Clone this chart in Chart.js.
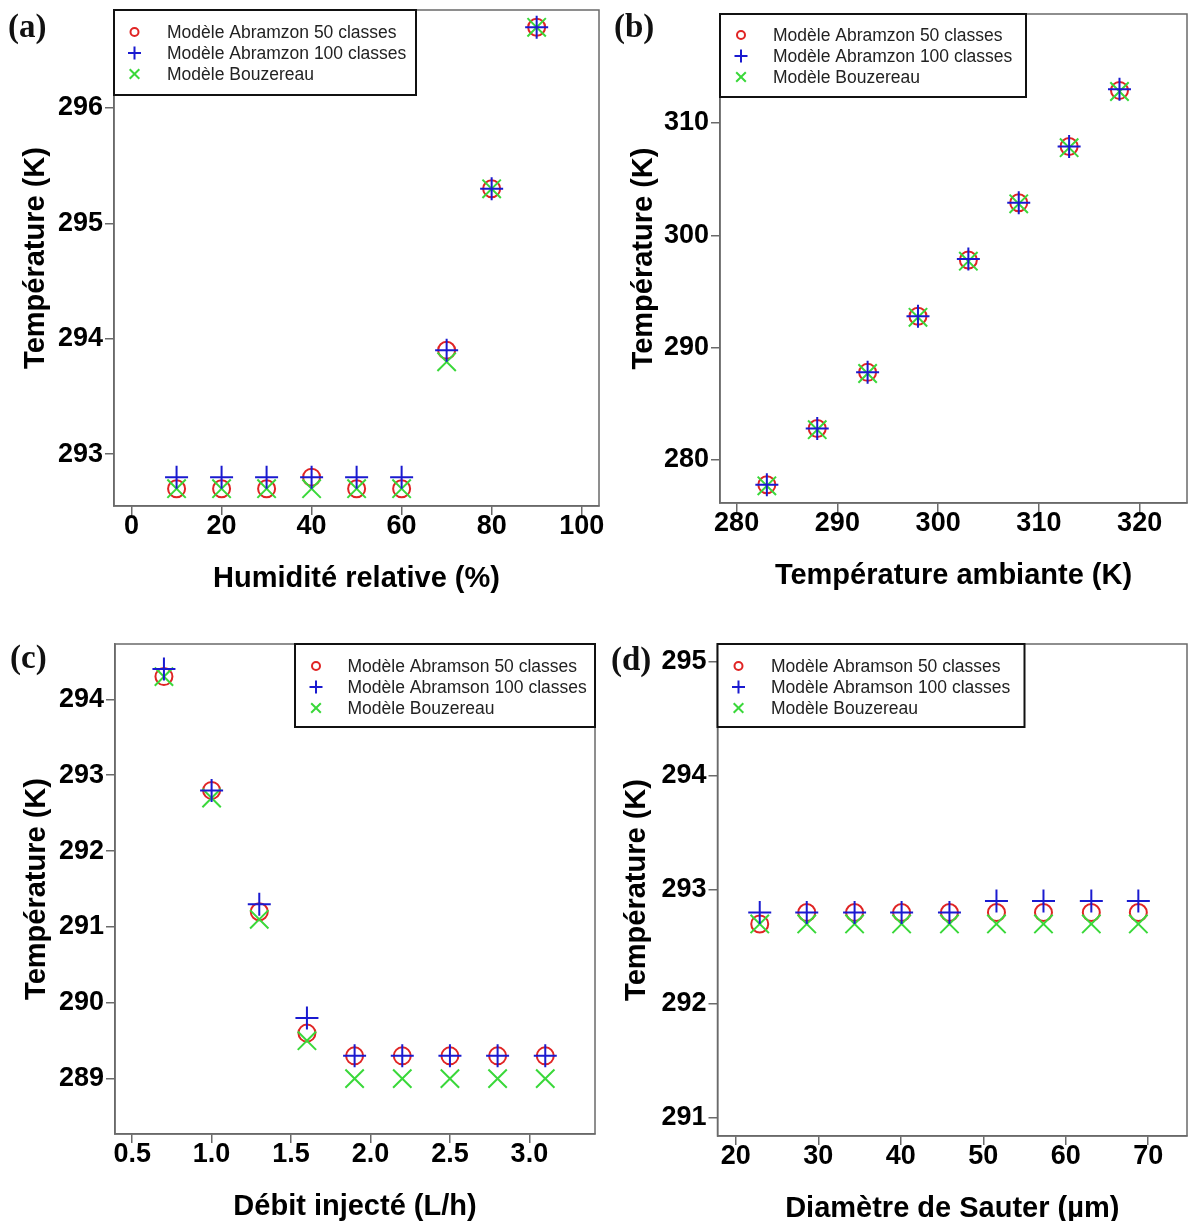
<!DOCTYPE html>
<html lang="fr">
<head>
<meta charset="utf-8">
<title>Température - études paramétriques</title>
<script src="https://cdn.jsdelivr.net/npm/chart.js@4.4.0/dist/chart.umd.min.js"></script>
<style>
  html, body { margin: 0; padding: 0; background: #fff; }
  #page { position: relative; width: 1188px; height: 1221px; overflow: hidden; }
  #page canvas { position: absolute; left: 0; top: 0; }
  .panel-label {
    position: absolute;
    font-family: 'Liberation Serif', 'Times New Roman', serif;
    font-weight: bold;
    font-size: 33px;
    line-height: 1;
    color: #111;
  }
</style>
</head>
<body>
<div id="page">
  <canvas id="chartA" width="1188" height="1221"></canvas>
  <canvas id="chartB" width="1188" height="1221"></canvas>
  <canvas id="chartC" width="1188" height="1221"></canvas>
  <canvas id="chartD" width="1188" height="1221"></canvas>
  <div class="panel-label" style="left:8px; top:10px;">(a)</div>
  <div class="panel-label" style="left:614px; top:10px;">(b)</div>
  <div class="panel-label" style="left:10px; top:641px;">(c)</div>
  <div class="panel-label" style="left:611px; top:643px;">(d)</div>
</div>
<script>
// ---------------------------------------------------------------------------
// Data
// ---------------------------------------------------------------------------

// (a) relative humidity
const humidite = [10, 20, 30, 40, 50, 60, 70, 80, 90];
const humA50 = [292.7, 292.7, 292.7, 292.8, 292.7, 292.7, 293.9, 295.3, 296.7];
const humA100 = [292.8, 292.8, 292.8, 292.8, 292.8, 292.8, 293.9, 295.3, 296.7];
const humBouz = [292.7, 292.7, 292.7, 292.7, 292.7, 292.7, 293.8, 295.3, 296.7];

// (b) ambient temperature
const tAmbiante = [283, 288, 293, 298, 303, 308, 313, 318];
const ambA50 = [277.8, 282.8, 287.8, 292.8, 297.8, 302.9, 307.9, 312.9];
const ambA100 = [277.8, 282.8, 287.8, 292.8, 297.9, 302.9, 307.9, 313.0];
const ambBouz = [277.7, 282.7, 287.7, 292.7, 297.7, 302.8, 307.8, 312.8];

// (c) injected flow rate
const debit = [0.7, 1.0, 1.3, 1.6, 1.9, 2.2, 2.5, 2.8, 3.1];
const debA50 = [294.3, 292.8, 291.2, 289.6, 289.3, 289.3, 289.3, 289.3, 289.3];
const debA100 = [294.4, 292.8, 291.3, 289.8, 289.3, 289.3, 289.3, 289.3, 289.3];
const debBouz = [294.3, 292.7, 291.1, 289.5, 289.0, 289.0, 289.0, 289.0, 289.0];

// (d) Sauter mean diameter
const sauter = [22.9, 28.6, 34.4, 40.1, 45.9, 51.6, 57.3, 63.1, 68.8];
const sauA50 = [292.7, 292.8, 292.8, 292.8, 292.8, 292.8, 292.8, 292.8, 292.8];
const sauA100 = [292.8, 292.8, 292.8, 292.8, 292.8, 292.9, 292.9, 292.9, 292.9];
const sauBouz = [292.7, 292.7, 292.7, 292.7, 292.7, 292.7, 292.7, 292.7, 292.7];

// legend labels
const labelsAbramzon = ['Modèle Abramzon 50 classes', 'Modèle Abramzon 100 classes', 'Modèle Bouzereau'];
const labelsAbramson = ['Modèle Abramson 50 classes', 'Modèle Abramson 100 classes', 'Modèle Bouzereau'];

// ---------------------------------------------------------------------------
// Styling
// ---------------------------------------------------------------------------
const PAGE_W = 1188;
const PAGE_H = 1221;
const RED = '#e02424';
const BLUE = '#1a1ad0';
const GREEN = '#3ad83a';
const AXIS_GRAY = '#6a6a6a';
const FONT = "'Liberation Sans', Arial, sans-serif";

// Marker sizes in the plot and in the legend box
const markerRadius = { circle: 8.5, cross: 11.5, crossRot: 13 };
const legendRadius = { circle: 4, cross: 6.5, crossRot: 6.8 };

document.addEventListener('DOMContentLoaded', function() {
    Chart.defaults.animation = false;
    Chart.defaults.font.family = FONT;

    createPanel('chartA', {
        area: { left: 0, bottom: 610 },
        frame: { left: 114, right: 599, top: 10, bottom: 506 },
        x: humidite, series: [humA50, humA100, humBouz], labels: labelsAbramzon,
        xRange: [-3.9, 103.85, 20], yRange: [292.55, 296.85, 1],
        xTitle: 'Humidité relative (%)', xTitlePad: 14, yTitlePad: 19,
        legend: { side: 'left', width: 302, height: 85, rows: [22, 43, 64], markerX: 20.5, textX: 53 }
    });

    createPanel('chartB', {
        area: { left: 600, bottom: 610 },
        frame: { left: 720, right: 1187, top: 14, bottom: 503 },
        x: tAmbiante, series: [ambA50, ambA100, ambBouz], labels: labelsAbramzon,
        xRange: [278.35, 324.7, 10], yRange: [276.17, 319.7, 10],
        xTitle: 'Température ambiante (K)', xTitlePad: 17, yTitlePad: 27,
        legend: { side: 'left', width: 306, height: 83, rows: [21, 42, 63], markerX: 21, textX: 53 }
    });

    createPanel('chartC', {
        area: { left: 0, bottom: 1221 },
        frame: { left: 115, right: 595, top: 644, bottom: 1134 },
        x: debit, series: [debA50, debA100, debBouz], labels: labelsAbramson,
        xRange: [0.392, 3.413, 0.5], yRange: [288.27, 294.73, 1], xDecimals: 1,
        xTitle: 'Débit injecté (L/h)', xTitlePad: -3, yTitlePad: 19.5,
        legend: { side: 'right', width: 300, height: 83, rows: [22, 43, 64], markerX: 21, textX: 52.5 }
    });

    createPanel('chartD', {
        area: { left: 600, bottom: 1221 },
        frame: { left: 717.5, right: 1187, top: 644, bottom: 1136 },
        x: sauter, series: [sauA50, sauA100, sauBouz], labels: labelsAbramson,
        xRange: [17.78, 74.7, 10], yRange: [290.84, 295.155, 1],
        xTitle: 'Diamètre de Sauter (µm)', xTitlePad: -5, yTitlePad: 19.5,
        legend: { side: 'left', width: 307, height: 83, rows: [22, 43, 64], markerX: 21, textX: 53.5 }
    });
});

/**
 * Frame around the plot area (left/bottom axis lines come from the scales)
 */
const framePlugin = {
    id: 'frameBox',
    beforeDatasetsDraw(chart) {
        const a = chart.chartArea;
        const ctx = chart.ctx;
        ctx.save();
        ctx.strokeStyle = AXIS_GRAY;
        ctx.lineWidth = 1.5;
        ctx.strokeRect(a.left, a.top, a.right - a.left, a.bottom - a.top);
        ctx.restore();
    }
};

/**
 * Boxed legend sitting in a corner of the plot area
 */
const legendBoxPlugin = {
    id: 'legendBox',
    afterDatasetsDraw(chart, args, opts) {
        const a = chart.chartArea;
        const ctx = chart.ctx;
        const x = opts.side === 'right' ? a.right - opts.width : a.left;
        const y = a.top;

        ctx.save();
        ctx.fillStyle = '#fff';
        ctx.fillRect(x, y, opts.width, opts.height);
        ctx.strokeStyle = '#111';
        ctx.lineWidth = 2;
        ctx.strokeRect(x, y, opts.width, opts.height);

        chart.data.datasets.forEach(function(ds, i) {
            const rowY = y + opts.rows[i];
            ctx.fillStyle = 'rgba(0,0,0,0)';
            ctx.strokeStyle = ds.borderColor;
            ctx.lineWidth = 2;
            Chart.helpers.drawPoint(ctx, {
                pointStyle: ds.pointStyle,
                radius: legendRadius[ds.pointStyle],
                borderWidth: 2,
                rotation: 0
            }, x + opts.markerX, rowY);

            ctx.fillStyle = '#222';
            ctx.font = '17.5px ' + FONT;
            ctx.textBaseline = 'middle';
            ctx.textAlign = 'left';
            ctx.fillText(ds.label, x + opts.textX, rowY + 1);
        });
        ctx.restore();
    }
};

function makeDataset(label, xs, ys, color, style, order) {
    return {
        label: label,
        data: xs.map(function(v, i) { return { x: v, y: ys[i] }; }),
        borderColor: color,
        backgroundColor: 'rgba(0,0,0,0)',
        pointStyle: style,
        pointRadius: markerRadius[style],
        pointBorderWidth: 2,
        pointBorderColor: color,
        pointBackgroundColor: 'rgba(0,0,0,0)',
        order: order
    };
}

function createPanel(canvasId, cfg) {
    const ctx = document.getElementById(canvasId);
    const f = cfg.frame;
    const yWidth = f.left - cfg.area.left;
    const xHeight = cfg.area.bottom - f.bottom;
    const decimals = cfg.xDecimals || 0;

    const tickFont = { family: FONT, size: 27, weight: 'bold' };
    const titleFont = { family: FONT, size: 29, weight: 'bold' };
    const gridOpts = {
        drawOnChartArea: false,
        drawTicks: true,
        tickLength: 9,
        color: AXIS_GRAY,
        lineWidth: 1.5
    };

    new Chart(ctx, {
        type: 'scatter',
        data: {
            datasets: [
                makeDataset(cfg.labels[0], cfg.x, cfg.series[0], RED, 'circle', 2),
                makeDataset(cfg.labels[1], cfg.x, cfg.series[1], BLUE, 'cross', 0),
                makeDataset(cfg.labels[2], cfg.x, cfg.series[2], GREEN, 'crossRot', 1)
            ]
        },
        options: {
            responsive: false,
            devicePixelRatio: 1,
            layout: {
                autoPadding: false,
                padding: {
                    left: cfg.area.left,
                    top: f.top,
                    right: PAGE_W - f.right,
                    bottom: PAGE_H - cfg.area.bottom
                }
            },
            plugins: {
                legend: { display: false },
                tooltip: { enabled: false },
                legendBox: cfg.legend
            },
            scales: {
                x: {
                    type: 'linear',
                    min: cfg.xRange[0],
                    max: cfg.xRange[1],
                    grid: gridOpts,
                    border: { display: true, color: AXIS_GRAY, width: 1.5 },
                    ticks: {
                        stepSize: cfg.xRange[2],
                        includeBounds: false,
                        color: '#000',
                        font: tickFont,
                        padding: -4.5,
                        maxRotation: 0,
                        autoSkip: false,
                        callback: function(v) { return Number(v).toFixed(decimals); }
                    },
                    title: {
                        display: true,
                        text: cfg.xTitle,
                        color: '#000',
                        font: titleFont,
                        padding: { top: 0, bottom: cfg.xTitlePad }
                    },
                    afterFit: function(scale) {
                        scale.height = xHeight;
                        scale.paddingLeft = 0;
                        scale.paddingRight = 0;
                    }
                },
                y: {
                    type: 'linear',
                    min: cfg.yRange[0],
                    max: cfg.yRange[1],
                    grid: gridOpts,
                    border: { display: true, color: AXIS_GRAY, width: 1.5 },
                    ticks: {
                        stepSize: cfg.yRange[2],
                        includeBounds: false,
                        color: '#000',
                        font: tickFont,
                        padding: 2,
                        autoSkip: false,
                        callback: function(v) { return Number(v).toFixed(0); }
                    },
                    title: {
                        display: true,
                        text: 'Température (K)',
                        color: '#000',
                        font: titleFont,
                        padding: { top: cfg.yTitlePad, bottom: 0 }
                    },
                    afterFit: function(scale) {
                        scale.width = yWidth;
                        scale.paddingTop = 0;
                        scale.paddingBottom = 0;
                    }
                }
            }
        },
        plugins: [framePlugin, legendBoxPlugin]
    });
}
</script>
</body>
</html>
